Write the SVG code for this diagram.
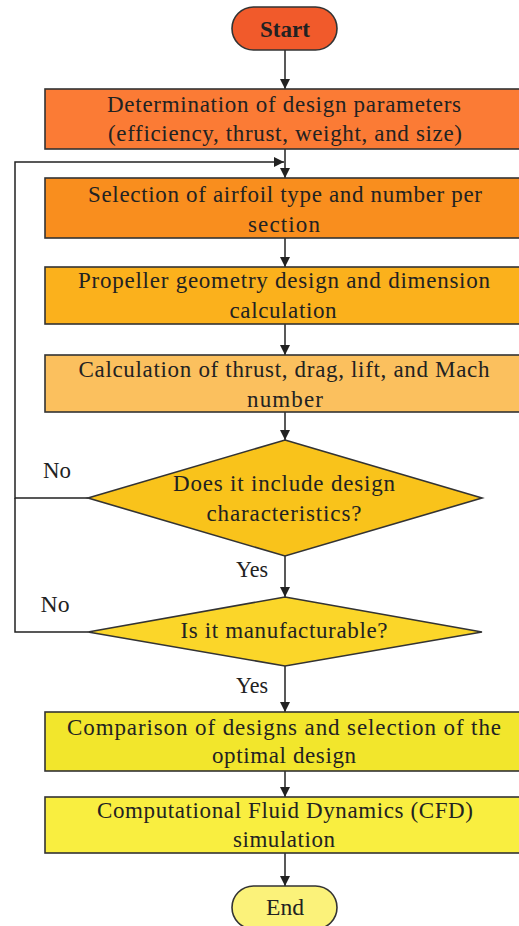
<svg xmlns="http://www.w3.org/2000/svg" width="519" height="926" viewBox="0 0 519 926">
<defs>
<marker id="arr" viewBox="0 0 10 10" refX="10" refY="5" markerWidth="10" markerHeight="10" markerUnits="userSpaceOnUse" orient="auto">
<path d="M0,0 L10,5 L0,10 z" fill="#222"/>
</marker>
<style>
.shape{stroke:#333;stroke-width:1.6}
.t{font-family:"Liberation Serif","Times New Roman",serif;font-size:23px;fill:#222;text-anchor:middle}
.c{fill:none;stroke:#222;stroke-width:1.5}
</style>
</defs>
<rect width="519" height="926" fill="#fff"/>
<g id="connectors">
<line class="c" x1="285" y1="50" x2="285" y2="89" marker-end="url(#arr)"/>
<line class="c" x1="285" y1="149" x2="285" y2="178" marker-end="url(#arr)"/>
<polyline class="c" points="88,498 15,498 15,162 284,162" marker-end="url(#arr)"/>
<polyline class="c" points="88,632 15,632 15,498"/>
<line class="c" x1="285" y1="238" x2="285" y2="267" marker-end="url(#arr)"/>
<line class="c" x1="285" y1="324" x2="285" y2="355" marker-end="url(#arr)"/>
<line class="c" x1="285" y1="412" x2="285" y2="440" marker-end="url(#arr)"/>
<line class="c" x1="285" y1="556" x2="285" y2="597" marker-end="url(#arr)"/>
<line class="c" x1="285" y1="666" x2="285" y2="712" marker-end="url(#arr)"/>
<line class="c" x1="285" y1="771" x2="285" y2="797" marker-end="url(#arr)"/>
<line class="c" x1="285" y1="853" x2="285" y2="886" marker-end="url(#arr)"/>
<text class="t" x="57" y="478" textLength="28" lengthAdjust="spacingAndGlyphs">No</text>
<text class="t" x="55" y="612" textLength="29" lengthAdjust="spacingAndGlyphs">No</text>
<text class="t" x="252" y="577" textLength="32" lengthAdjust="spacingAndGlyphs">Yes</text>
<text class="t" x="252" y="693" textLength="32" lengthAdjust="spacingAndGlyphs">Yes</text>
</g>
<g id="start">
<rect class="shape" x="232" y="7" width="105" height="43" rx="21.5" fill="#f15a2b"/>
<text class="t" x="285" y="37" font-weight="bold" font-size="22">Start</text>
</g>
<g id="design-params">
<rect class="shape" x="45" y="89" width="480" height="60" fill="#fb7b35"/>
<text class="t" x="284" y="112" textLength="354" lengthAdjust="spacing">Determination of design parameters</text>
<text class="t" x="285" y="141" textLength="354" lengthAdjust="spacing">(efficiency, thrust, weight, and size)</text>
</g>
<g id="airfoil">
<rect class="shape" x="45" y="178" width="480" height="60" fill="#f98e1e"/>
<text class="t" x="285" y="202" textLength="394" lengthAdjust="spacing">Selection of airfoil type and number per</text>
<text class="t" x="284" y="232" textLength="72" lengthAdjust="spacing">section</text>
</g>
<g id="geometry">
<rect class="shape" x="45" y="267" width="480" height="57" fill="#fbb11c"/>
<text class="t" x="284" y="288" textLength="412" lengthAdjust="spacing">Propeller geometry design and dimension</text>
<text class="t" x="283" y="318" textLength="107" lengthAdjust="spacing">calculation</text>
</g>
<g id="calculation">
<rect class="shape" x="45" y="355" width="480" height="57" fill="#fbc05e"/>
<text class="t" x="284" y="377" textLength="411" lengthAdjust="spacing">Calculation of thrust, drag, lift, and Mach</text>
<text class="t" x="285" y="407" textLength="76" lengthAdjust="spacing">number</text>
</g>
<g id="decision-characteristics">
<polygon class="shape" points="285,440 482,498 285,556 88,498" fill="#f9c31b"/>
<text class="t" x="284" y="491" textLength="222" lengthAdjust="spacing">Does it include design</text>
<text class="t" x="284" y="521" textLength="155" lengthAdjust="spacing">characteristics?</text>
</g>
<g id="decision-manufacturable">
<polygon class="shape" points="285,597 482,632 285,666 88,632" fill="#fbd629"/>
<text class="t" x="284" y="638" textLength="207" lengthAdjust="spacing">Is it manufacturable?</text>
</g>
<g id="comparison">
<rect class="shape" x="45" y="712" width="480" height="59" fill="#f2e62c"/>
<text class="t" x="284" y="735" textLength="434" lengthAdjust="spacing">Comparison of designs and selection of the</text>
<text class="t" x="284" y="763" textLength="144" lengthAdjust="spacing">optimal design</text>
</g>
<g id="cfd">
<rect class="shape" x="45" y="797" width="480" height="56" fill="#f9ee40"/>
<text class="t" x="285" y="818" textLength="376" lengthAdjust="spacing">Computational Fluid Dynamics (CFD)</text>
<text class="t" x="284" y="847" textLength="102" lengthAdjust="spacing">simulation</text>
</g>
<g id="end">
<rect class="shape" x="232" y="886" width="105" height="43" rx="21.5" fill="#fbf27a"/>
<text class="t" x="285" y="915" textLength="38" lengthAdjust="spacingAndGlyphs">End</text>
</g>
</svg>
